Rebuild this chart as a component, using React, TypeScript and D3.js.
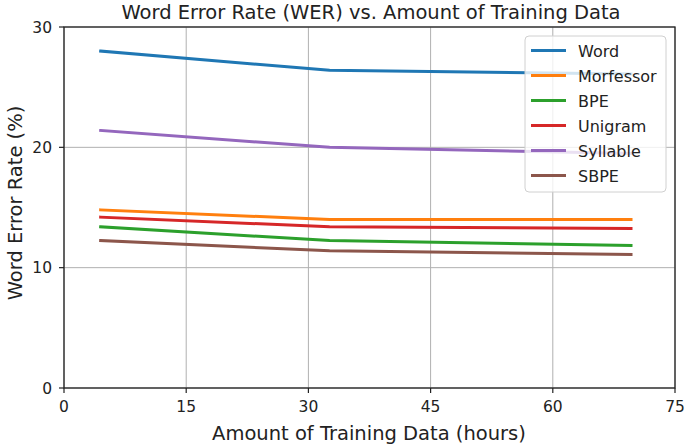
import React from "react";
import * as d3 from "d3";

const hours = [4.5, 32.6, 69.6];
const seriesNames = ["Word", "Morfessor", "BPE", "Unigram", "Syllable", "SBPE"];
const word = [28.0, 26.4, 26.1];
const morfessor = [14.8, 14.0, 14.0];
const bpe = [13.4, 12.25, 11.85];
const unigram = [14.2, 13.4, 13.25];
const syllable = [21.4, 20.0, 19.5];
const sbpe = [12.25, 11.4, 11.1];
const xTicks = [0, 15, 30, 45, 60, 75];
const yTicks = [0, 10, 20, 30];
const colors = ["#1f77b4", "#ff7f0e", "#2ca02c", "#d62728", "#9467bd", "#8c564b"];

const allSeries = [word, morfessor, bpe, unigram, syllable, sbpe];

export default function App() {
  const W = 685, H = 445;
  const left = 64, right = 675, top = 27, bottom = 388;
  const x = d3.scaleLinear().domain([0, 75]).range([left, right]);
  const y = d3.scaleLinear().domain([0, 30]).range([bottom, top]);
  const line = d3.line<number>().x((_, i) => x(hours[i])).y((d) => y(d));
  const font = "DejaVu Sans, sans-serif";
  const legX = 525, legY = 36, legW = 141, legH = 156;
  return (
    <svg width={W} height={H} style={{ position: "absolute", left: 0, top: 0, background: "#fff" }} fontFamily={font}>
      <rect x={0} y={0} width={W} height={H} fill="#fff" />
      {xTicks.map((t) => (
        <line key={"gx" + t} x1={x(t)} x2={x(t)} y1={top} y2={bottom} stroke="#b0b0b0" strokeWidth={1} />
      ))}
      {yTicks.map((t) => (
        <line key={"gy" + t} x1={left} x2={right} y1={y(t)} y2={y(t)} stroke="#b0b0b0" strokeWidth={1} />
      ))}
      {allSeries.map((s, i) => (
        <path key={seriesNames[i]} d={line(s) || ""} fill="none" stroke={colors[i]} strokeWidth={3} strokeLinejoin="round" strokeLinecap="square" />
      ))}
      <rect x={left} y={top} width={right - left} height={bottom - top} fill="none" stroke="#222" strokeWidth={1.3} />
      {xTicks.map((t) => (
        <g key={"tx" + t}>
          <line x1={x(t)} x2={x(t)} y1={bottom} y2={bottom + 5} stroke="#222" strokeWidth={1.2} />
          <text x={x(t)} y={bottom + 24} textAnchor="middle" fontSize={15.5} fill="#222">{t}</text>
        </g>
      ))}
      {yTicks.map((t) => (
        <g key={"ty" + t}>
          <line x1={left - 5} x2={left} y1={y(t)} y2={y(t)} stroke="#222" strokeWidth={1.2} />
          <text x={left - 12} y={y(t) + 5.5} textAnchor="end" fontSize={15.5} fill="#222">{t}</text>
        </g>
      ))}
      <text x={371} y={19} textAnchor="middle" fontSize={19.5} fill="#222">Word Error Rate (WER) vs. Amount of Training Data</text>
      <text x={369} y={440} textAnchor="middle" fontSize={19.5} fill="#222">Amount of Training Data (hours)</text>
      <text transform={`translate(22, 203) rotate(-90)`} textAnchor="middle" fontSize={19.5} fill="#222">Word Error Rate (%)</text>
      <rect x={legX} y={legY} width={legW} height={legH} rx={4} fill="#fff" fillOpacity={0.8} stroke="#d0d0d0" strokeWidth={1} />
      {seriesNames.map((n, i) => (
        <g key={"leg" + n}>
          <line x1={531} x2={566} y1={50.5 + i * 25} y2={50.5 + i * 25} stroke={colors[i]} strokeWidth={3} />
          <text x={578} y={50.5 + i * 25 + 6} fontSize={16} fill="#222">{n}</text>
        </g>
      ))}
    </svg>
  );
}
